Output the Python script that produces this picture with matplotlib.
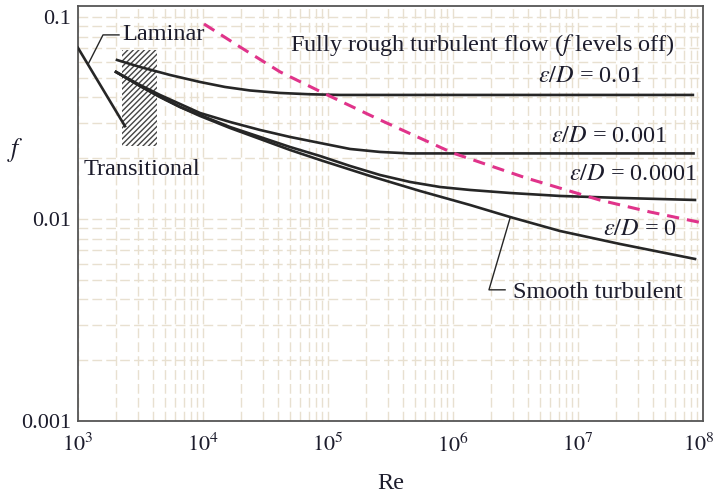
import numpy as np
import matplotlib
matplotlib.use("Agg")
import matplotlib.pyplot as plt
from matplotlib.transforms import ScaledTranslation

plt.rcParams['font.family'] = ['Liberation Serif', 'DejaVu Serif']
plt.rcParams['mathtext.fontset'] = 'stix'
plt.rcParams['hatch.linewidth'] = 1.0

##読み取ったデータ (Re, f)
lam_re = [1000, 2377]
lam_f = [0.0703, 0.0288]

trans_re = [2250, 4300]
trans_lo, trans_hi = 0.0230, 0.0687

rough01_re = [2050, 3133, 5444, 9462, 14980, 23770, 41300, 71600, 125000, 8.3e7]
rough01_f = [0.06124, 0.05655, 0.05162, 0.04766, 0.04503, 0.04326, 0.04205, 0.04143, 0.04111, 0.04111]

rough001_re = [2014, 3133, 4529, 6546, 9462, 16440, 28580, 49660, 86300, 150000, 260600, 453000, 8.4e7]
rough001_f = [0.05342, 0.04606, 0.04111, 0.03710, 0.03347, 0.03021, 0.02758, 0.02547, 0.02378,
              0.02221, 0.02147, 0.02111, 0.02111]

rough0001_re = [2014, 3133, 4529, 6546, 9462, 16440, 28580, 49660, 86300, 150000, 260600, 453000,
                787000, 1.368e6, 2.858e6, 7.178e6, 2.168e7, 8.63e7]
rough0001_f = [0.05342, 0.04553, 0.04018, 0.03584, 0.03272, 0.02853, 0.02547, 0.02272, 0.02050,
               0.01830, 0.01651, 0.01525, 0.01440, 0.01392, 0.01345, 0.01300, 0.01271, 0.01242]

smooth_re = [2014, 3133, 4529, 6546, 9462, 16440, 28580, 49660, 86300, 216800, 544500,
             1.368e6, 2.858e6, 7.178e6, 2.168e7, 8.63e7]
smooth_f = [0.05342, 0.04553, 0.04018, 0.03584, 0.03235, 0.02821, 0.02489, 0.02196, 0.01959,
            0.01633, 0.01376, 0.01173, 0.01023, 0.00872, 0.00752, 0.00634]

rough_lim_re = [10190, 19770, 41300, 91200, 260600, 1e6, 3.84e6, 1.5e7, 3.77e7, 1e8]
rough_lim_f = [0.0923, 0.07105, 0.0535, 0.0421, 0.03092, 0.0212, 0.01596, 0.0124, 0.01083, 0.00955]

lam_lead_re = [2128, 1585, 1202]
lam_lead_f = [0.0815, 0.0815, 0.0582]
smooth_lead_re = [2.86e6, 1.94e6, 2.61e6]
smooth_lead_f = [0.0101, 0.00446, 0.00446]

xtick_vals = [1e3, 1e4, 1e5, 1e6, 1e7, 1e8]
xtick_labels = [r'$10^{3}$', r'$10^{4}$', r'$10^{5}$', r'$10^{6}$', r'$10^{7}$', r'$10^{8}$']
ytick_vals = [0.001, 0.01, 0.1]
ytick_labels = ['0.001', '0.01', '0.1']

txt = '#1c1c2c'
ink = '#262626'

#描画
fig = plt.figure(figsize=(7.17, 4.95), dpi=100)
ax = fig.add_axes([78/717, 1-421/495, 625/717, 415/495])
ax.set_xscale('log')
ax.set_yscale('log')
ax.set_xlim(1e3, 1e8)
ax.set_ylim(0.001, 0.1133)

ax.grid(True, which='both', color='#e8e0d0', ls=(0, (7, 3)), lw=1.0)
ax.set_axisbelow(True)

ax.fill_between(trans_re, trans_lo, trans_hi, facecolor='white', hatch='//////',
                edgecolor='#444444', linewidth=0, zorder=2)

for xs, ys in [(lam_re, lam_f), (rough01_re, rough01_f), (rough001_re, rough001_f),
               (rough0001_re, rough0001_f), (smooth_re, smooth_f)]:
    ax.plot(xs, ys, color=ink, lw=1.9, zorder=3, solid_joinstyle='round')
ax.plot(rough_lim_re, rough_lim_f, color='#e0338a', lw=2.2, ls=(0, (4, 2.6)), zorder=4)

ax.plot(lam_lead_re, lam_lead_f, color=ink, lw=1.0, zorder=3)
ax.plot(smooth_lead_re, smooth_lead_f, color=ink, lw=1.0, zorder=3)

fs = 17.5
ax.text(2250, 0.0815, 'Laminar', fontsize=fs, color=txt, va='center', ha='left')
ax.text(1117, 0.0175, 'Transitional', fontsize=fs, color=txt, va='center', ha='left')
ax.text(4.97e4, 0.0726, r'Fully rough turbulent flow ($f$ levels off)', fontsize=fs,
        color=txt, va='center', ha='left')
ax.text(3.02e6, 0.00431, 'Smooth turbulent', fontsize=fs, color=txt, va='center', ha='left')
ax.text(3.25e7, 0.0505, r'$\varepsilon/D$ = 0.01', fontsize=fs, color=txt, va='center', ha='right')
ax.text(5.15e7, 0.0255, r'$\varepsilon/D$ = 0.001', fontsize=fs, color=txt, va='center', ha='right')
ax.text(8.95e7, 0.01652, r'$\varepsilon/D$ = 0.0001', fontsize=fs, color=txt, va='center', ha='right')
ax.text(6.19e7, 0.00882, r'$\varepsilon/D$ = 0', fontsize=fs, color=txt, va='center', ha='right')

ax.set_xticks(xtick_vals)
ax.set_xticklabels(xtick_labels)
ax.set_yticks(ytick_vals)
ax.set_yticklabels(ytick_labels)
ax.tick_params(which='both', length=0, labelsize=16, labelcolor=txt)
ax.tick_params(axis='x', pad=9)
ax.tick_params(axis='y', pad=5)
# 右端のラベルが切れないよう少し左へ
last = ax.get_xticklabels()[-1]
last.set_transform(last.get_transform() + ScaledTranslation(-3/72, 0, fig.dpi_scale_trans))
for s in ax.spines.values():
    s.set_color('#555555')
    s.set_linewidth(1.3)

ax.set_xlabel('Re', fontsize=fs, color=txt, labelpad=12)
fig.text(15/717, 1-150/495, '$f$', fontsize=fs + 1, color=txt, ha='center', va='center')

fig.savefig('out.png', dpi=100)
